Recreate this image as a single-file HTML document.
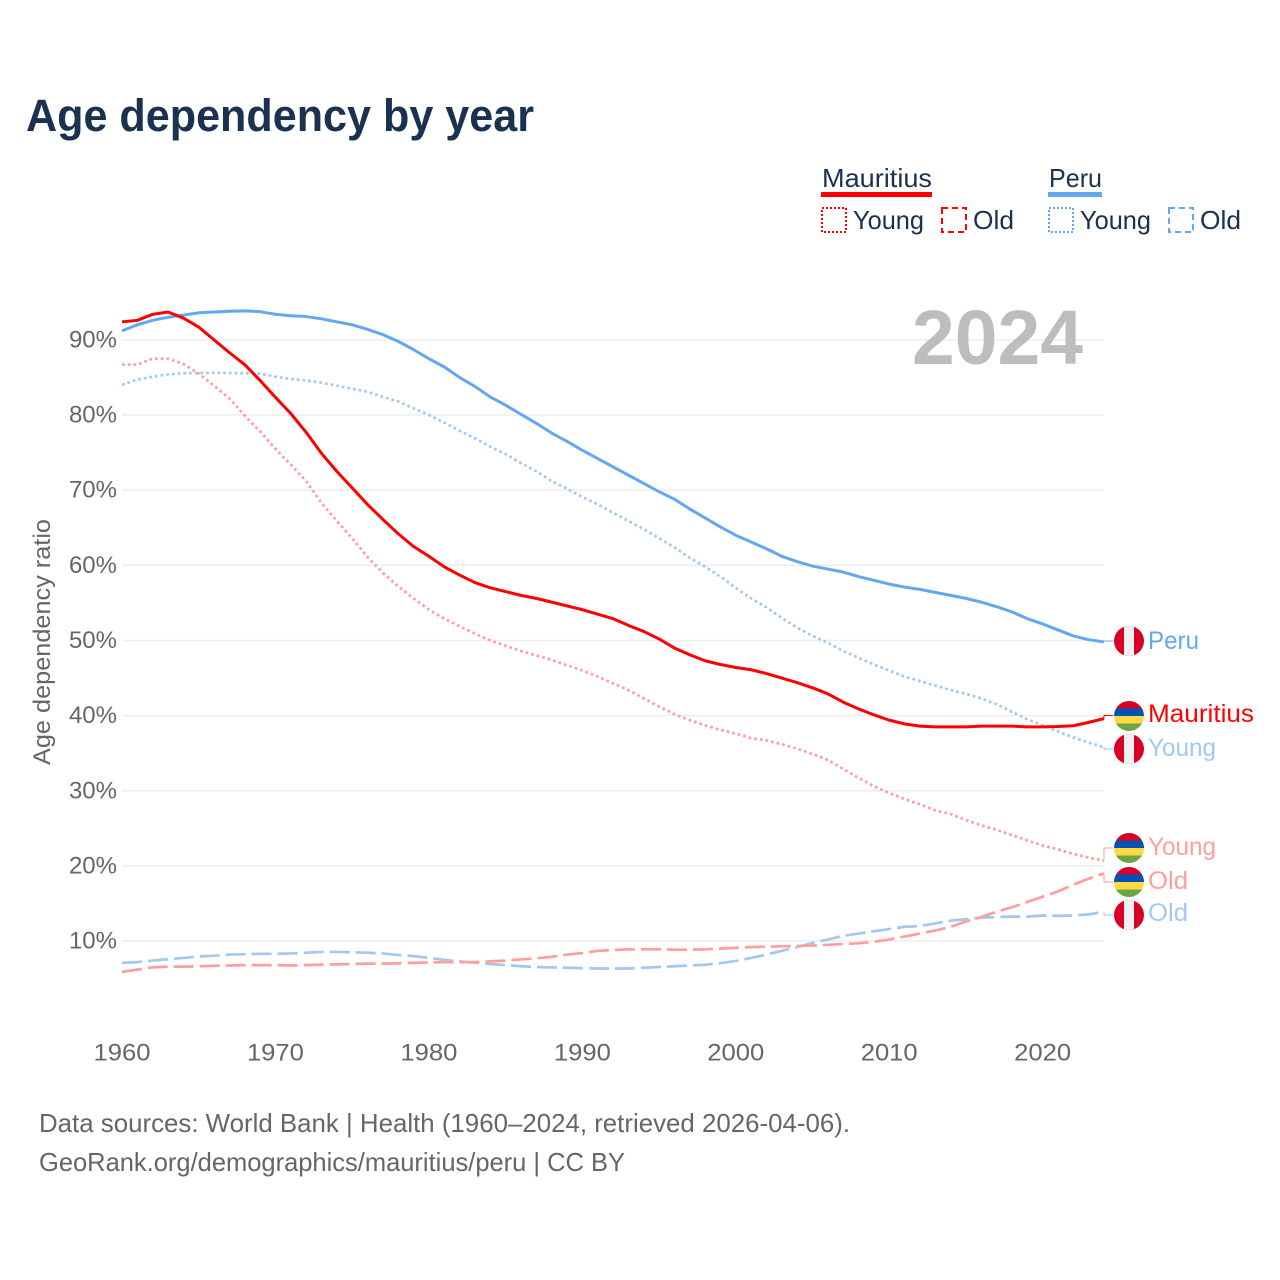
<!DOCTYPE html>
<html lang="en">
<head>
<meta charset="utf-8">
<title>Age dependency by year</title>
<style>
html,body{margin:0;padding:0;background:#fff}
svg{display:block}
text{font-family:"Liberation Sans",sans-serif}
</style>
</head>
<body>
<svg id="chart" xmlns="http://www.w3.org/2000/svg" width="1280" height="1280" viewBox="0 0 1280 1280">
<defs>
<clipPath id="flag-clip"><circle cx="0" cy="0" r="15"/></clipPath>
<g id="flag-peru-def" clip-path="url(#flag-clip)"><rect x="-15" y="-15" width="30" height="30" fill="#d80027"/><rect x="-5" y="-15" width="10" height="30" fill="#f0f0f0"/></g>
<g id="flag-mauritius-def" clip-path="url(#flag-clip)"><rect x="-15" y="-15" width="30" height="7.5" fill="#d80027"/><rect x="-15" y="-7.5" width="30" height="7.5" fill="#0052b4"/><rect x="-15" y="0" width="30" height="7.5" fill="#ffda44"/><rect x="-15" y="7.5" width="30" height="7.5" fill="#6da544"/></g>
</defs>
<rect x="0" y="0" width="1280" height="1280" fill="#fff"/>
<text x="26" y="131" font-size="45" font-weight="700" fill="#1a3150" textLength="508" lengthAdjust="spacingAndGlyphs">Age dependency by year</text>

<g font-size="26" fill="#1a3150">
<text x="822" y="187" textLength="110" lengthAdjust="spacingAndGlyphs">Mauritius</text>
<rect x="821" y="192" width="111" height="5" fill="#ff0000"/>
<rect x="822" y="208" width="24" height="24" fill="none" stroke="#ff0000" stroke-width="2" stroke-dasharray="2 2"/>
<text x="853" y="229" textLength="71" lengthAdjust="spacingAndGlyphs">Young</text>
<rect x="942" y="208" width="24" height="24" fill="none" stroke="#ff0000" stroke-width="2" stroke-dasharray="6 4"/>
<text x="973" y="229" textLength="41" lengthAdjust="spacingAndGlyphs">Old</text>
<text x="1049" y="187" textLength="53" lengthAdjust="spacingAndGlyphs">Peru</text>
<rect x="1048" y="192" width="54" height="5" fill="#62a7ef"/>
<rect x="1049" y="208" width="24" height="24" fill="none" stroke="#62a7ef" stroke-width="2" stroke-dasharray="2 2"/>
<text x="1080" y="229" textLength="71" lengthAdjust="spacingAndGlyphs">Young</text>
<rect x="1169" y="208" width="24" height="24" fill="none" stroke="#62a7ef" stroke-width="2" stroke-dasharray="6 4"/>
<text x="1200" y="229" textLength="41" lengthAdjust="spacingAndGlyphs">Old</text>
</g>

<g id="grid"></g>
<g id="yticks"></g>
<g id="xticks"></g>
<text transform="translate(50,765) rotate(-90)" x="0" y="0" font-size="24" fill="#666" textLength="246" lengthAdjust="spacingAndGlyphs">Age dependency ratio</text>
<text x="912" y="364" font-size="77" font-weight="700" fill="#bdbdbd" textLength="171" lengthAdjust="spacingAndGlyphs">2024</text>

<g id="series"></g>

<g font-size="25">
<use href="#flag-peru-def" x="1129" y="641"/>
<text x="1148" y="649" fill="#62a7ef" textLength="51" lengthAdjust="spacingAndGlyphs">Peru</text>
<use href="#flag-mauritius-def" x="1129" y="716"/>
<text x="1148" y="722" fill="#ff0000" textLength="106" lengthAdjust="spacingAndGlyphs">Mauritius</text>
<use href="#flag-peru-def" x="1129" y="749"/>
<text x="1148" y="756" fill="#a2c8f2" textLength="68" lengthAdjust="spacingAndGlyphs">Young</text>
<use href="#flag-mauritius-def" x="1129" y="848"/>
<text x="1148" y="855" fill="#ff9e9e" textLength="68" lengthAdjust="spacingAndGlyphs">Young</text>
<use href="#flag-mauritius-def" x="1129" y="882"/>
<text x="1148" y="889" fill="#ff9e9e" textLength="40" lengthAdjust="spacingAndGlyphs">Old</text>
<use href="#flag-peru-def" x="1129" y="915"/>
<text x="1148" y="921" fill="#a2c8f2" textLength="40" lengthAdjust="spacingAndGlyphs">Old</text>
</g>

<g font-size="26" fill="#666">
<text x="39" y="1132" textLength="811" lengthAdjust="spacingAndGlyphs">Data sources: World Bank | Health (1960–2024, retrieved 2026-04-06).</text>
<text x="39" y="1171" textLength="586" lengthAdjust="spacingAndGlyphs">GeoRank.org/demographics/mauritius/peru | CC BY</text>
</g>
</svg>
<script>
const startYear = 1960;
const xTickYears = [1960, 1970, 1980, 1990, 2000, 2010, 2020];
const yTickValues = [10, 20, 30, 40, 50, 60, 70, 80, 90];

const mauritiusTotal = [
92.4,92.6,93.4,93.7,92.9,91.7,90,88.3,86.7,84.6,
82.35,80.2,77.7,74.9,72.5,70.3,68.1,66.1,64.2,62.5,
61.2,59.8,58.7,57.7,57,56.5,56,55.6,55.1,54.6,
54.1,53.5,52.9,52,51.2,50.2,49,48.1,47.3,46.8,
46.4,46.1,45.6,45,44.4,43.7,42.9,41.8,40.9,40.1,
39.4,38.9,38.6,38.5,38.5,38.5,38.6,38.6,38.6,38.5,
38.5,38.55,38.65,39.1,39.6];
const mauritiusYoung = [
86.7,86.7,87.5,87.5,86.8,85.5,83.9,82.2,79.9,77.8,
75.5,73.4,71.2,68.3,65.9,63.6,61.1,59,57.2,55.6,
54.1,52.9,51.9,50.9,50,49.3,48.6,48,47.4,46.7,
46,45.2,44.3,43.4,42.3,41.2,40.2,39.4,38.7,38.1,
37.6,37,36.7,36.2,35.6,34.9,34.1,32.9,31.7,30.6,
29.7,28.9,28.2,27.4,26.9,26.1,25.4,24.8,24.1,23.4,
22.7,22.2,21.6,21.1,20.7];
const mauritiusOld = [
5.9,6.2,6.5,6.6,6.6,6.65,6.7,6.75,6.8,6.8,
6.8,6.75,6.8,6.85,6.9,6.95,7,7,7.05,7.1,
7.15,7.2,7.2,7.2,7.3,7.4,7.55,7.7,7.9,8.2,
8.4,8.7,8.8,8.9,8.9,8.9,8.85,8.85,8.9,9,
9.1,9.2,9.25,9.3,9.35,9.4,9.5,9.6,9.7,9.9,
10.2,10.6,11,11.4,11.9,12.6,13.2,13.9,14.5,15.2,
15.9,16.6,17.5,18.3,19];
const peruTotal = [
91.2,92,92.6,93,93.3,93.6,93.7,93.8,93.85,93.75,
93.4,93.2,93.1,92.8,92.4,92,91.4,90.7,89.8,88.7,
87.5,86.4,85,83.8,82.4,81.3,80.1,78.9,77.6,76.5,
75.3,74.2,73.1,72,70.9,69.8,68.8,67.5,66.3,65.1,
64,63.1,62.2,61.2,60.5,59.9,59.5,59.1,58.5,58,
57.5,57.1,56.8,56.4,56,55.6,55.1,54.5,53.8,52.9,
52.2,51.4,50.6,50.1,49.8];
const peruYoung = [
84,84.7,85.1,85.4,85.55,85.6,85.6,85.6,85.55,85.5,
85.1,84.8,84.6,84.3,83.9,83.5,83.1,82.4,81.8,80.9,
80,79,77.9,76.9,75.8,74.8,73.6,72.5,71.2,70.2,
69.1,68.1,67,65.9,64.8,63.6,62.4,61,59.8,58.5,
57,55.6,54.4,53,51.7,50.6,49.7,48.6,47.7,46.8,
46,45.2,44.6,44,43.4,42.9,42.3,41.5,40.5,39.5,
38.7,37.9,37.1,36.4,35.8];
const peruOld = [
7.1,7.2,7.4,7.6,7.75,7.95,8.05,8.2,8.25,8.3,
8.3,8.35,8.45,8.55,8.55,8.5,8.45,8.35,8.15,8,
7.75,7.5,7.3,7.1,6.95,6.8,6.65,6.55,6.5,6.45,
6.4,6.35,6.35,6.35,6.45,6.55,6.65,6.75,6.85,7.05,
7.35,7.75,8.2,8.7,9.2,9.75,10.2,10.7,11,11.3,
11.6,11.9,12,12.35,12.7,12.9,13.1,13.2,13.25,13.25,
13.4,13.35,13.4,13.55,13.9];

const NS = 'http://www.w3.org/2000/svg';
function xScale(year) { return 122 + (year - 1960) * (1104 - 122) / 64; }
function yScale(value) { return 1016.2 - value * 7.515; }

const gridGroup = document.getElementById('grid');
const yTickGroup = document.getElementById('yticks');
yTickValues.forEach(function (v) {
  const line = document.createElementNS(NS, 'line');
  
  
  line.setAttribute('x1', xScale(1960));
  line.setAttribute('x2', xScale(2024));
  line.setAttribute('y1', yScale(v));
  line.setAttribute('y2', yScale(v));
  line.setAttribute('stroke', '#eeeeee');
  line.setAttribute('stroke-width', '1.5');
  gridGroup.appendChild(line);
  const t = document.createElementNS(NS, 'text');
  
  
  t.setAttribute('x', 117);
  t.setAttribute('y', yScale(v) + 7.5);
  t.setAttribute('text-anchor', 'end');
  t.setAttribute('font-size', '24');
  t.setAttribute('fill', '#666');
  t.textContent = v + '%';
  yTickGroup.appendChild(t);
});

const xTickGroup = document.getElementById('xticks');
xTickYears.forEach(function (yr) {
  const t = document.createElementNS(NS, 'text');
  
  
  t.setAttribute('x', xScale(yr) - 28.5);
  t.setAttribute('y', 1060.5);
  t.setAttribute('font-size', '24');
  t.setAttribute('fill', '#666');
  t.setAttribute('textLength', '57');
  t.setAttribute('lengthAdjust', 'spacingAndGlyphs');
  t.textContent = yr;
  xTickGroup.appendChild(t);
});

const seriesGroup = document.getElementById('series');
function drawSeries(name, values, color, width, dash, labelY) {
  let d = '';
  values.forEach(function (v, i) {
    d += (i ? 'L' : 'M') + xScale(startYear + i).toFixed(2) + ' ' + yScale(v).toFixed(2);
  });
  const p = document.createElementNS(NS, 'path');
  
  
  p.setAttribute('d', d);
  p.setAttribute('fill', 'none');
  p.setAttribute('stroke', color);
  p.setAttribute('stroke-width', width);
  p.setAttribute('stroke-linejoin', 'round');
  if (dash) p.setAttribute('stroke-dasharray', dash);
  seriesGroup.appendChild(p);
  const endX = xScale(startYear + values.length - 1);
  const endY = yScale(values[values.length - 1]);
  const c = document.createElementNS(NS, 'path');
  
  
  c.setAttribute('d', 'M' + endX + ' ' + endY + 'V' + labelY + 'H1113');
  c.setAttribute('fill', 'none');
  c.setAttribute('stroke', color);
  c.setAttribute('stroke-width', '1');
  seriesGroup.appendChild(c);
}
drawSeries('peru-old', peruOld, '#a2c8f2', 2.7, '20 6', 915);
drawSeries('mauritius-old', mauritiusOld, '#ff9e9e', 2.7, '20 6', 882);
drawSeries('peru-young', peruYoung, '#a2c8f2', 2.7, '2.7 3', 749);
drawSeries('mauritius-young', mauritiusYoung, '#ff9e9e', 2.7, '2.7 3', 848);
drawSeries('peru-total', peruTotal, '#62a7ef', 3, '', 641);
drawSeries('mauritius-total', mauritiusTotal, '#ff0000', 3, '', 715.5);
</script>
</body>
</html>
